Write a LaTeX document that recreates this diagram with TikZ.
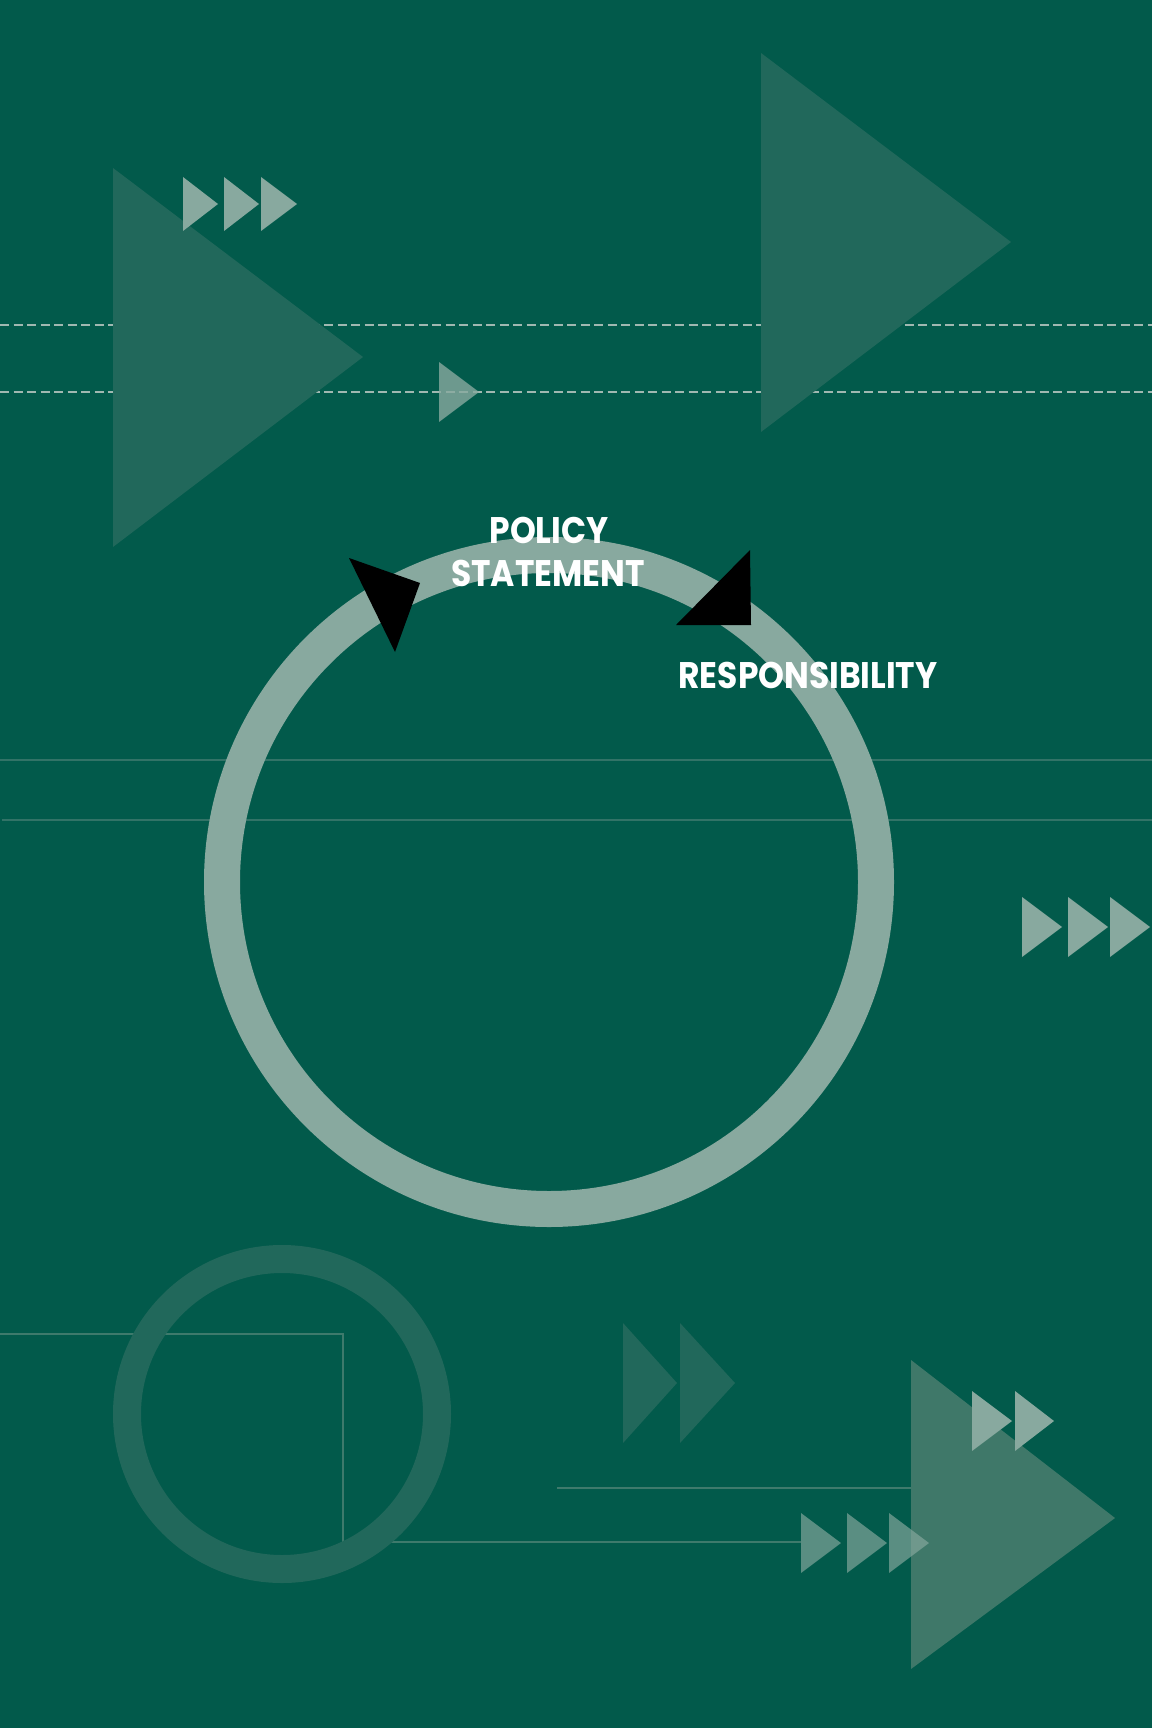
\documentclass[tikz,border=0pt]{standalone}
\usepackage{fontspec}
\newfontfamily\labelfont[FakeStretch=0.89]{Poppins}
\definecolor{bggreen}{HTML}{025A4B}
\definecolor{faintgreen}{HTML}{21685B}
\definecolor{midgreen}{HTML}{3F7869}
\definecolor{palegreen}{HTML}{88A99F}
\definecolor{rulegreen}{HTML}{327367}
\definecolor{lowrule}{HTML}{3E7A6C}
\definecolor{dashgrey}{HTML}{A0B8B1}
\begin{document}
\begin{tikzpicture}[x=1pt, y=-1pt,
    tag/.style={text=white, font=\labelfont\bfseries\fontsize{37}{39}\selectfont, inner sep=0pt, anchor=base},
    dashline/.style={dashgrey, line width=2.4pt, dash pattern=on 9pt off 4.5pt},
    rule/.style={rulegreen, line width=1.8pt},
    lowline/.style={lowrule, line width=2pt},
    faint/.style={fill=faintgreen},
    pale/.style={fill=palegreen}]
    \fill[bggreen] (0,0) rectangle (1152,1728);
    \useasboundingbox (0,0) rectangle (1152,1728);

    % guide lines
    \draw[dashline] (0,325) -- (1152,325);
    \draw[dashline] (0,392) -- (1152,392);
    \draw[rule] (0,760) -- (1152,760);
    \draw[rule] (2,820) -- (1152,820);

    % big faint triangles
    \fill[faint] (113,168) -- (363,357) -- (113,547) -- cycle;
    \fill[faint] (761,53) -- (1011,242) -- (761,432) -- cycle;

    % small arrows
    \fill[pale] (183,177) -- (218,204) -- (183,231) -- cycle;
    \fill[pale] (224,177) -- (259,204) -- (224,231) -- cycle;
    \fill[pale] (261,177) -- (297,204) -- (261,231) -- cycle;
    \fill[pale, opacity=0.8] (439,362) -- (479,392) -- (439,422) -- cycle;
    \fill[pale] (1022,897) -- (1062,927) -- (1022,957) -- cycle;
    \fill[pale] (1068,897) -- (1108,927) -- (1068,957) -- cycle;
    \fill[pale] (1110,897) -- (1150,927) -- (1110,957) -- cycle;

    % main cycle
    \draw[palegreen, line width=36pt] (549,882) circle (327);
    \fill[black] (349,558) -- (420,583) -- (395,652) -- cycle;
    \fill[black] (750,550) -- (751,625) -- (676,625) -- cycle;

    \node[tag] (policy) at (549,543) {POLICY};
    \node[tag] (statement) at (548,586) {STATEMENT};
    \node[tag] (resp) at (808,688) {RESPONSIBILITY};

    % bottom part
    \coordinate (lstart) at (0,1334);
    \coordinate (lcorner) at (343,1334);
    \coordinate (lfoot) at (343,1542);
    \coordinate (lend) at (801,1542);
    \draw[lowline] (lstart) -- (lcorner) -- (lfoot) -- (lend);
    \draw[lowline] (557,1488) -- (911,1488);
    \draw[faintgreen, line width=28pt] (282,1414) circle (155);

    \fill[faint] (623,1323) -- (677,1383) -- (623,1443) -- cycle;
    \fill[faint] (680,1323) -- (735,1383) -- (680,1443) -- cycle;

    \fill[midgreen] (911,1360) -- (1115,1518) -- (911,1669) -- cycle;
    \fill[pale] (972,1391) -- (1012,1421) -- (972,1451) -- cycle;
    \fill[pale] (1015,1391) -- (1054,1421) -- (1015,1451) -- cycle;
    \fill[pale, opacity=0.66] (801,1513) -- (841,1543) -- (801,1573) -- cycle;
    \fill[pale, opacity=0.66] (847,1513) -- (887,1543) -- (847,1573) -- cycle;
    \fill[pale, opacity=0.66] (889,1513) -- (929,1543) -- (889,1573) -- cycle;
\end{tikzpicture}
\end{document}
